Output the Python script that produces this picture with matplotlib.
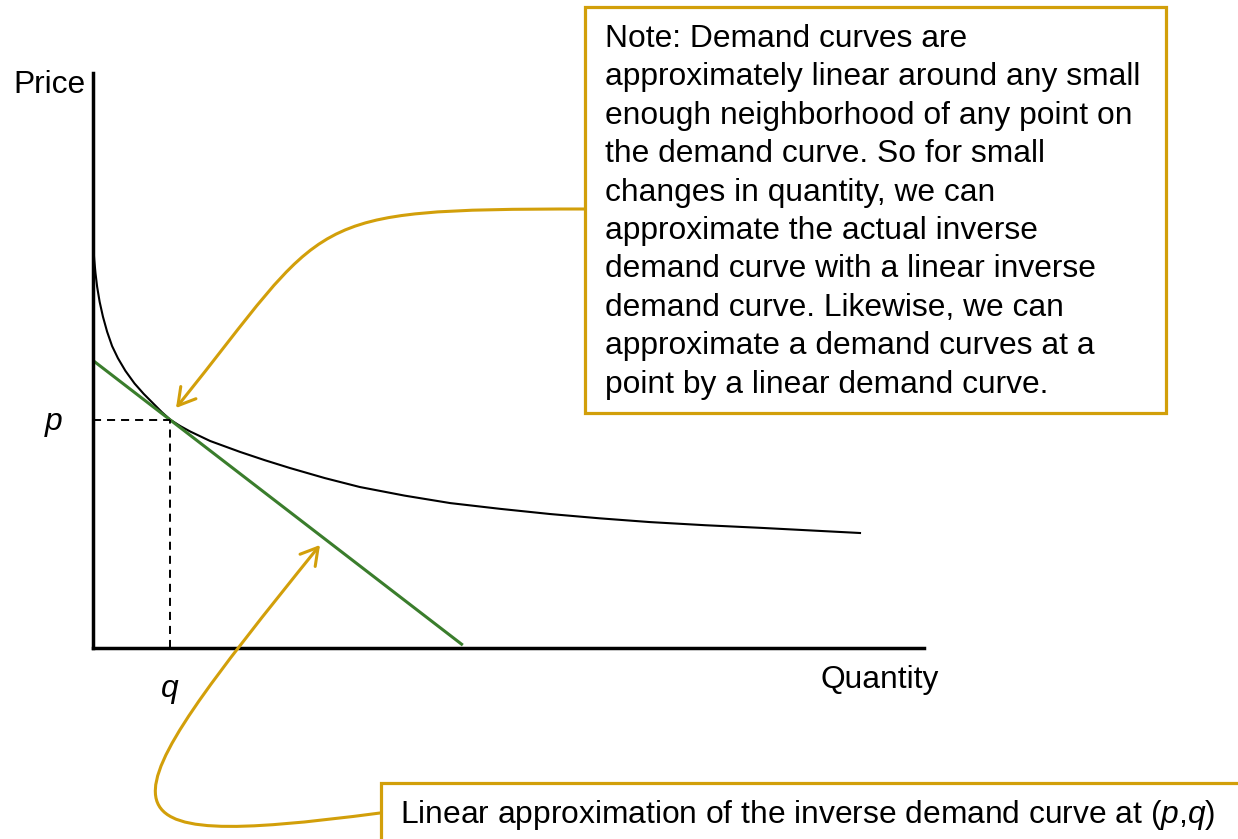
import matplotlib
matplotlib.use("Agg")
import matplotlib.pyplot as plt
from matplotlib.patches import Rectangle, FancyArrowPatch, ArrowStyle
from matplotlib.path import Path

# Colors
GOLD = "#D29F0A"
GREEN = "#3A7D2C"
BLACK = "#000000"

plt.rcParams["font.family"] = ["Liberation Sans", "DejaVu Sans"]
plt.rcParams["mathtext.fontset"] = "custom"
plt.rcParams["mathtext.rm"] = "Liberation Sans"
plt.rcParams["mathtext.it"] = "Liberation Sans:italic"
plt.rcParams["lines.scale_dashes"] = False

FS = 22.9

# Demand curve (quantity, price)
demand_q = [0.005, 0.015, 0.03, 0.05, 0.08, 0.12, 0.17, 0.23, 0.30, 0.39,
            0.50, 0.61, 0.72, 0.83, 0.93, 1.05, 1.17, 1.41, 1.77, 2.07,
            2.37, 2.79, 3.21, 3.75, 4.30, 4.90, 5.50, 6.10, 6.70, 7.37,
            8.03, 8.63, 9.23]
demand_p = [6.95, 6.75, 6.52, 6.28, 6.02, 5.76, 5.50, 5.25, 5.04, 4.82,
            4.60, 4.42, 4.26, 4.10, 3.97, 3.86, 3.765, 3.60, 3.41, 3.265,
            3.13, 2.955, 2.80, 2.65, 2.52, 2.42, 2.33, 2.255, 2.19, 2.135,
            2.09, 2.045, 2.00]

# Linear approximation (tangent) end points
linear_q = [0.0, 4.45]
linear_p = [5.0, 0.05]

# Point (p, q)
point_q = 0.93
point_p = 3.97

note_lines = [
    "Note: Demand curves are",
    "approximately linear around any small",
    "enough neighborhood of any point on",
    "the demand curve. So for small",
    "changes in quantity, we can",
    "approximate the actual inverse",
    "demand curve with a linear inverse",
    "demand curve. Likewise, we can",
    "approximate a demand curves at a",
    "point by a linear demand curve.",
]
linear_note = "Linear approximation of the inverse demand curve at ($p$,$q$)"

W, H = 1238, 839
fig = plt.figure(figsize=(W / 100, H / 100), dpi=100)
fig.patch.set_facecolor("white")

# --- chart axes (origin at pixel 93,648) ---
ax = fig.add_axes([93 / W, (H - 648) / H, (924 - 93) / W, (648 - 73) / H])
ax.set_xlim(0, 10)
ax.set_ylim(0, 10)
for side in ["top", "right"]:
    ax.spines[side].set_visible(False)
for side in ["left", "bottom"]:
    ax.spines[side].set_linewidth(2.5)
    ax.spines[side].set_color(BLACK)
    ax.spines[side].set_zorder(5)
ax.set_xticks([])
ax.set_yticks([])
ax.patch.set_alpha(0)

ax.plot(demand_q, demand_p, color=BLACK, lw=1.5, solid_joinstyle="round")
ax.plot(linear_q, linear_p, color=GREEN, lw=2.2, solid_capstyle="butt")
ax.plot([0, point_q], [point_p, point_p], color=BLACK, lw=1.4, dashes=(5.8, 4.3))
ax.plot([point_q, point_q], [0, point_p], color=BLACK, lw=1.4, dashes=(5.8, 4.3))

# --- overlay in pixel coordinates for labels / notes ---
ov = fig.add_axes([0, 0, 1, 1])
ov.set_xlim(0, W)
ov.set_ylim(H, 0)
ov.axis("off")
ov.patch.set_alpha(0)

ov.text(86, 93, "Price", fontsize=FS, ha="right", va="baseline")
ov.text(820, 688, "Quantity", fontsize=FS, ha="left", va="baseline")
ov.text(54, 430, "p", fontsize=FS, style="italic", ha="center", va="baseline")
ov.text(170, 697, "q", fontsize=FS, style="italic", ha="center", va="baseline")

# arrows
arrow_style = ArrowStyle("->", head_length=12, head_width=7)
top_path = Path([(585, 209), (300, 209), (329.75, 216.75), (176, 408)],
                [Path.MOVETO, Path.CURVE4, Path.CURVE4, Path.CURVE4])
ov.add_patch(FancyArrowPatch(path=top_path, arrowstyle=arrow_style,
                             color=GOLD, lw=2.2, mutation_scale=1))
bot_path = Path([(380, 813), (83, 852), (99.5, 818), (320, 545)],
                [Path.MOVETO, Path.CURVE4, Path.CURVE4, Path.CURVE4])
ov.add_patch(FancyArrowPatch(path=bot_path, arrowstyle=arrow_style,
                             color=GOLD, lw=2.2, mutation_scale=1))

# note boxes
ov.add_patch(Rectangle((585, 7), 581, 406, facecolor="white",
                       edgecolor=GOLD, lw=2.3, zorder=3))
for i, line in enumerate(note_lines):
    ov.text(605, 47 + 38.4 * i, line, fontsize=FS, ha="left",
            va="baseline", zorder=4)

ov.add_patch(Rectangle((381, 783), 900, 100, facecolor="white",
                       edgecolor=GOLD, lw=2.3, zorder=3))
ov.text(400, 823, linear_note, fontsize=FS, ha="left", va="baseline", zorder=4)

fig.savefig("out.png", dpi=100)
